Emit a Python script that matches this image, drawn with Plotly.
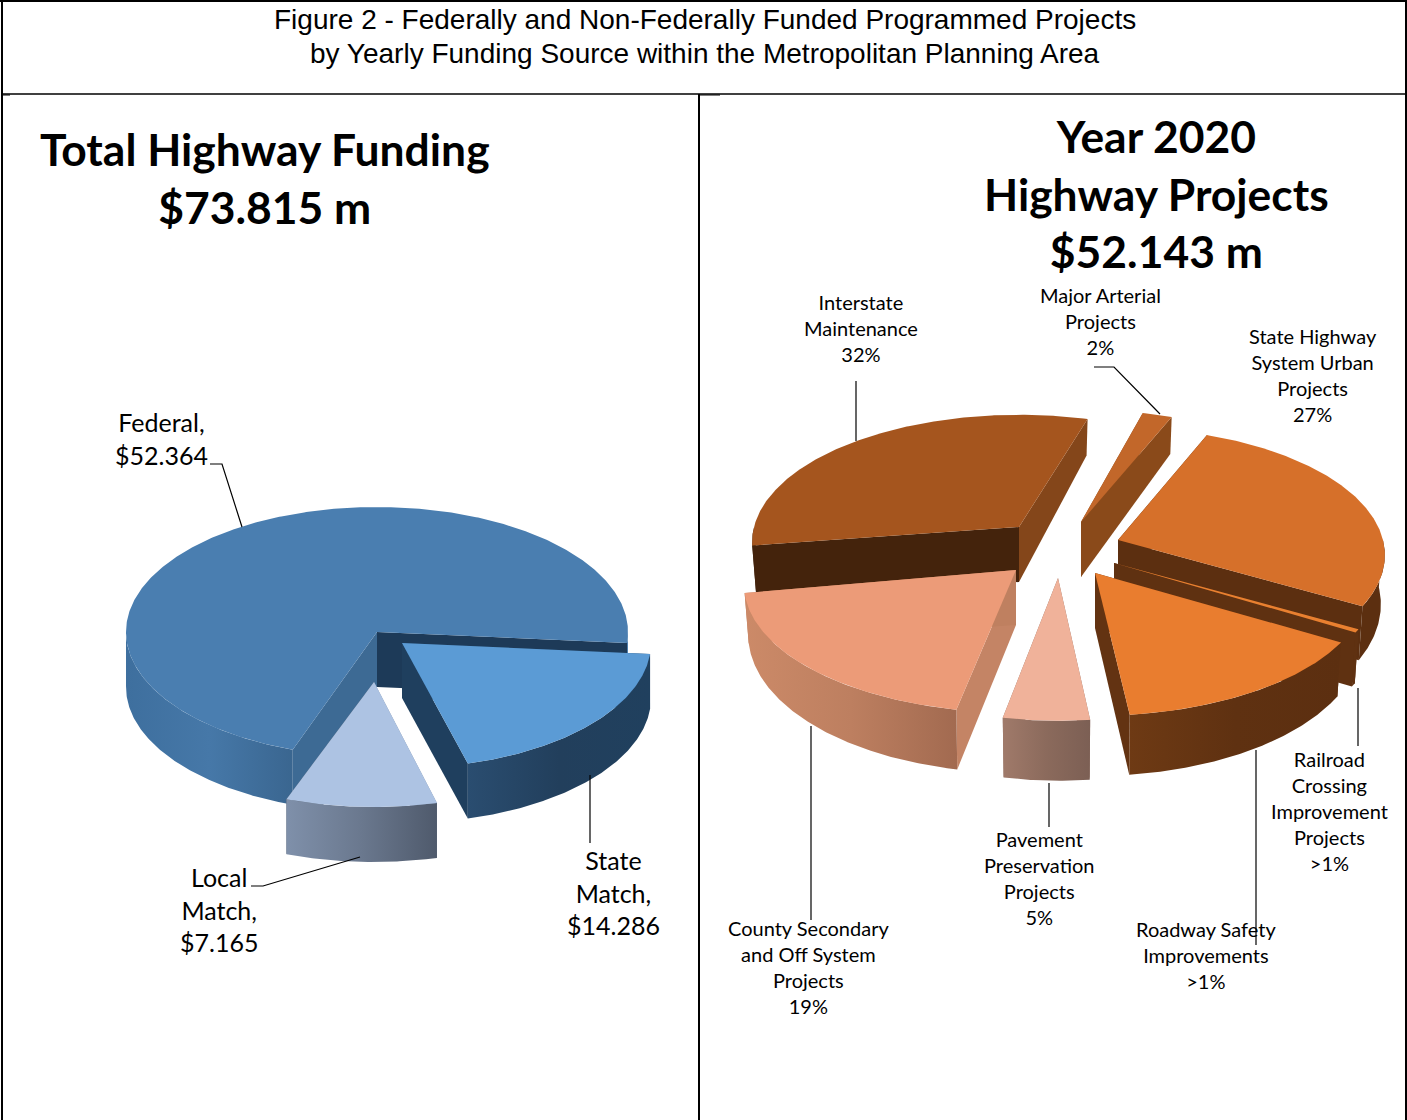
import numpy as np
import plotly.graph_objects as go

# ---------- data ----------
left_labels = ["State Match", "Local Match", "Federal"]
left_values = [14.286, 7.165, 52.364]

right_labels = ["State Highway System Urban Projects", "Railroad Crossing Improvement Projects",
                "Roadway Safety Improvements", "Pavement Preservation Projects",
                "County Secondary and Off System Projects", "Interstate Maintenance",
                "Major Arterial Projects"]
right_values = [27, 0.4, 14.6, 5, 19, 32, 2]

# ---------- styling / layout ----------
LEFT = dict(start=5.0, rx=251, ry=125, k=0.0, d_center=55, d_rim=55, d_front=0, inset=1.0)
RIGHT = dict(start=292.2, rx=270, ry=127.5, k=0.12, d_center=55, d_rim=48, d_front=12, inset=0.985)

left_style = {
    "State Match": dict(apex=(402, 643), top="#5B9BD5", rx=249, faces=("#264A6C", "#1F3F5E"),
                        wall=["#2A4D70", "#223F5C", "#20405E"]),
    "Local Match": dict(apex=(374, 682), top="#ADC3E3", rot=0.8, faces=("#7F90AA", "#55606F"),
                        wall=["#7F90AA", "#6A788E", "#4F5A6C"]),
    "Federal": dict(apex=(377, 632), top="#4A7EB0", faces=("#3D6A94", "#1D3A58"),
                    wall=["#3E6F9E", "#4678A8", "#3A6690"]),
}
right_style = {
    "State Highway System Urban Projects": dict(apex=(1118, 540), top="#D6702A", rx=265, faces=("#5C2F10", "#5C2F10"),
                                                wall=["#5C2F10", "#5C2F10"]),
    "Railroad Crossing Improvement Projects": dict(apex=(1114, 563), top="#E98030", rx=265, faces=("#5F3111", "#5F3111"),
                                                   wall=["#5F3111", "#5F3111"]),
    "Roadway Safety Improvements": dict(apex=(1095, 573), top="#E97D2F", faces=("#633312", "#633312"),
                                        wall=["#6E3A14", "#5F3111", "#5C2F10"]),
    "Pavement Preservation Projects": dict(apex=(1058, 578), top="#F0B29A", rx=250, faces=("#8F6C5E", "#8F6C5E"),
                                           wall=["#A07A6A", "#8B6A5C", "#7C5F54"]),
    "County Secondary and Off System Projects": dict(apex=(1016, 570), top="#EC9B78", faces=("#C48465", "#BF8060"),
                                                     wall=["#CC8A68", "#BD7F60", "#A26A50"]),
    "Interstate Maintenance": dict(apex=(1019, 527), top="#A5551E", rx=265, rot=2.0, faces=("#44230C", "#84461A"),
                                   wall=["#44230C", "#44230C"]),
    "Major Arterial Projects": dict(apex=(1081, 522), top="#C2672A", faces=("#8A4A1A", "#8A4A1A"),
                                    wall=["#8A4A1A", "#8A4A1A"]),
}
left_order = ["Federal", "State Match", "Local Match"]
right_order = ["Interstate Maintenance", "Major Arterial Projects", "State Highway System Urban Projects",
               "Railroad Crossing Improvement Projects", "Roadway Safety Improvements",
               "Pavement Preservation Projects", "County Secondary and Off System Projects"]

texts = [
    ("Figure 2 - Federally and Non-Federally Funded Programmed Projects", 704.5, 19, 28, "Liberation Sans", False),
    ("by Yearly Funding Source within the Metropolitan Planning Area", 704.5, 53.5, 28, "Liberation Sans", False),
    ("Total Highway Funding<br>$73.815 m", 265, 177.5, 44.4, "Lato", True),
    ("Year 2020<br>Highway Projects<br>$52.143 m", 1156, 192.5, 44.4, "Lato", True),
    ("Federal,<br>$52.364", 161, 438, 25, "Lato", False),
    ("State<br>Match,<br>$14.286", 613, 892, 25, "Lato", False),
    ("Local<br>Match,<br>$7.165", 219, 909, 25, "Lato", False),
    ("Interstate<br>Maintenance<br>32%", 861, 328, 20, "Lato", False),
    ("Major Arterial<br>Projects<br>2%", 1100, 320.5, 20, "Lato", False),
    ("State Highway<br>System Urban<br>Projects<br>27%", 1313, 374.5, 20, "Lato", False),
    ("Railroad<br>Crossing<br>Improvement<br>Projects<br>>1%", 1329, 811, 20, "Lato", False),
    ("Roadway Safety<br>Improvements<br>>1%", 1206, 955, 20, "Lato", False),
    ("Pavement<br>Preservation<br>Projects<br>5%", 1039, 878, 20, "Lato", False),
    ("County Secondary<br>and Off System<br>Projects<br>19%", 808, 967, 20, "Lato", False),
]
leaders = [
    ([210, 222, 242], [464, 464, 527]),
    ([590, 590], [775, 843]),
    ([251, 263, 360], [886, 886, 857]),
    ([856, 856], [381, 441]),
    ([1094, 1114, 1160], [367, 367, 414]),
    ([1358, 1358], [688, 746]),
    ([1256, 1256], [750, 945]),
    ([1049, 1049], [783, 827]),
    ([811, 811], [726, 920]),
]


def rim(a_deg, apex, g):
    a = np.radians(a_deg)
    c, s = np.cos(a), np.sin(a)
    f = 1 + g["k"] * s
    return apex[0] + g["rx"] * c * f, apex[1] + g["ry"] * s * f, s


def rim_bottom(a_deg, apex, g):
    x, y, s = rim(a_deg, apex, g)
    return apex[0] + (x - apex[0]) * g["inset"], y + g["d_rim"] + g["d_front"] * s


def poly(fig, xs, ys, color=None, grad=None):
    kw = dict(x=list(xs), y=list(ys), mode="lines", line=dict(width=0), fill="toself",
              hoverinfo="skip", showlegend=False)
    if grad:
        kw["fillgradient"] = dict(type="horizontal", start=float(min(xs)), stop=float(max(xs)),
                                  colorscale=[[i / (len(grad) - 1), c] for i, c in enumerate(grad)])
    else:
        kw["fillcolor"] = color
    fig.add_trace(go.Scatter(**kw))


def draw_pie(fig, labels, values, order, style, base):
    total = sum(values)
    spans, a = {}, base["start"]
    for lab, v in zip(labels, values):
        spans[lab] = (a, a + v / total * 360)
        a = spans[lab][1]
    for lab in order:
        st = style[lab]
        g = {**base, "rx": st.get("rx", base["rx"])}
        a0, a1 = (v + st.get("rot", 0.0) for v in spans[lab])
        ax, ay = st["apex"]
        # radial faces
        for ang, col in zip((a0, a1), st["faces"]):
            x, y, _ = rim(ang, st["apex"], g)
            xb, yb = rim_bottom(ang, st["apex"], g)
            poly(fig, [ax, x, xb, ax, ax], [ay, y, yb, ay + g["d_center"], ay], color=col)
        # outer wall: the parts of the arc facing the viewer
        angs = np.linspace(a0, a1, max(8, int((a1 - a0) * 2)))
        mask = np.sin(np.radians(angs)) >= -0.01
        idx = np.where(mask)[0]
        if len(idx) > 1:
            for seg in np.split(idx, np.where(np.diff(idx) > 1)[0] + 1):
                if len(seg) < 2:
                    continue
                t = [rim(v, st["apex"], g) for v in angs[seg]]
                b = [rim_bottom(v, st["apex"], g) for v in angs[seg]]
                xs = [p[0] for p in t] + [p[0] for p in b][::-1]
                ys = [p[1] for p in t] + [p[1] for p in b][::-1]
                poly(fig, xs + xs[:1], ys + ys[:1], grad=st["wall"])
        # top surface
        t = [rim(v, st["apex"], g) for v in angs]
        poly(fig, [ax] + [p[0] for p in t] + [ax], [ay] + [p[1] for p in t] + [ay], color=st["top"])


fig = go.Figure()
draw_pie(fig, left_labels, left_values, left_order, left_style, LEFT)
draw_pie(fig, right_labels, right_values, right_order, right_style, RIGHT)

for xs, ys in leaders:
    fig.add_trace(go.Scatter(x=xs, y=ys, mode="lines", line=dict(color="#000000", width=1.2),
                             hoverinfo="skip", showlegend=False))

for text, x, y, size, font, bold in texts:
    fig.add_annotation(x=x, y=y, text=f"<b>{text}</b>" if bold else text, showarrow=False,
                       xanchor="center", yanchor="middle", align="center",
                       font=dict(family=font, size=size, color="#000000"))

frame = [(2, 0, 2, 1120, 2), (0, 1, 1407, 1, 2), (1406, 0, 1406, 1120, 2),
         (2, 94, 1407, 94, 1.5), (699, 94, 699, 1120, 2), (2, 95, 10, 95, 1), (699, 95, 720, 95, 1)]
for x0, y0, x1, y1, w in frame:
    fig.add_shape(type="line", x0=x0, y0=y0, x1=x1, y1=y1, xref="x", yref="y",
                  line=dict(color="#000000", width=w))

fig.update_xaxes(range=[0, 1407], visible=False, fixedrange=True)
fig.update_yaxes(range=[1120, 0], visible=False, fixedrange=True)
fig.update_layout(width=1407, height=1120, margin=dict(l=0, r=0, t=0, b=0),
                  paper_bgcolor="white", plot_bgcolor="white", showlegend=False)
fig.write_html("out.html", config=dict(displayModeBar=False),
               post_script="document.body.style.margin='0';document.body.style.overflow='hidden';")
